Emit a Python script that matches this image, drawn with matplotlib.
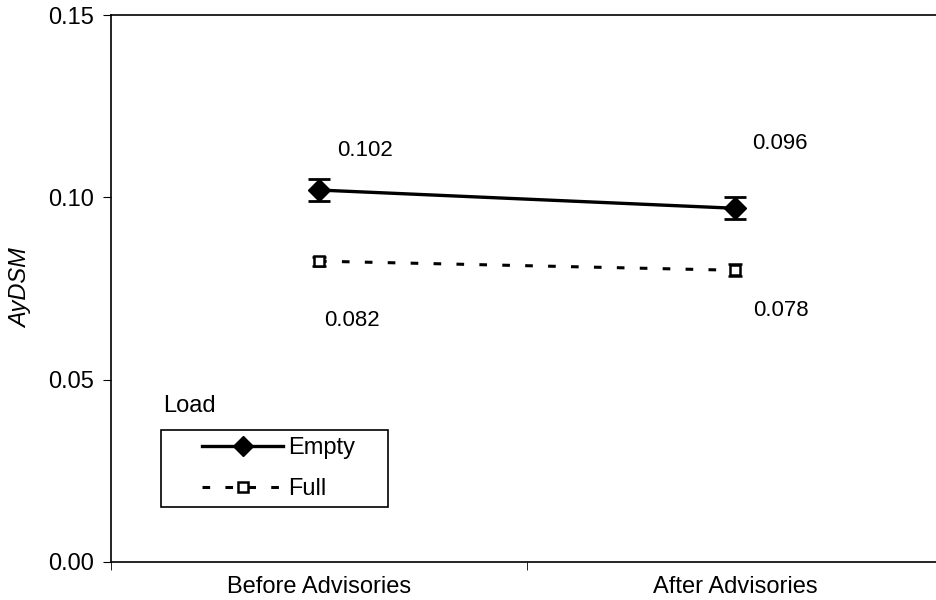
import matplotlib.pyplot as plt
from matplotlib.lines import Line2D
from matplotlib.patches import Rectangle
from matplotlib.ticker import FixedLocator

plt.rcParams['font.family'] = ['Liberation Sans', 'DejaVu Sans']

# data
phases = ['Before Advisories', 'After Advisories']
empty_mean = [0.102, 0.097]
empty_err = [0.003, 0.003]
full_mean = [0.0825, 0.080]
full_err = [0.0012, 0.0016]
empty_labels = ['0.102', '0.096']
full_labels = ['0.082', '0.078']

fig = plt.figure(figsize=(9.36, 6), dpi=100)
ax = fig.add_axes([111 / 936, 38 / 600, 832 / 936, 547 / 600])

x = list(range(len(phases)))
dash = (0, (2.5, 5))

ax.errorbar(x, empty_mean, yerr=empty_err, color='black', lw=2.4,
            marker='D', markersize=11, capsize=8, capthick=2, elinewidth=2)
ax.errorbar(x, full_mean, yerr=full_err, color='black', lw=2.2,
            ls=dash, marker='s', markersize=7, mfc='white', mew=1.8,
            capsize=5, capthick=1.5, elinewidth=1.5)

# value labels (offsets in pixels from the marker)
lab_off_empty = [(46, 40), (45, 65)]
lab_off_full = [(33, -59), (46, -40)]
for xi, yi, s, off in zip(x, empty_mean, empty_labels, lab_off_empty):
    ax.annotate(s, (xi, yi), xytext=off, textcoords='offset pixels',
                ha='center', va='center', fontsize=16)
for xi, yi, s, off in zip(x, full_mean, full_labels, lab_off_full):
    ax.annotate(s, (xi, yi), xytext=off, textcoords='offset pixels',
                ha='center', va='center', fontsize=16)

ax.set_xlim(-0.5, 1.5)
ax.set_ylim(0, 0.15)
ax.set_yticks([0.0, 0.05, 0.10, 0.15])
ax.set_yticklabels(['0.00', '0.05', '0.10', '0.15'], fontsize=17)
ax.set_xticks(x)
ax.set_xticklabels(phases, fontsize=17)
ax.xaxis.set_minor_locator(FixedLocator([-0.5, 0.5, 1.5]))
ax.tick_params(axis='x', which='major', length=0, pad=10)
ax.tick_params(axis='x', which='minor', length=6, direction='out')
ax.tick_params(axis='y', length=6, direction='out', pad=6)
ax.spines['right'].set_visible(False)
for s in ['left', 'bottom', 'top']:
    ax.spines[s].set_linewidth(1.2)
ax.set_ylabel('AyDSM', fontsize=17, style='italic', labelpad=12)

# legend: title outside, plain box
fig.text(163 / 936, 1 - 406 / 600, 'Load', fontsize=17, va='center', ha='left')
fig.patches.append(Rectangle((161 / 936, 1 - 507 / 600), 227 / 936, 77 / 600,
                             transform=fig.transFigure, fill=False,
                             edgecolor='black', lw=1.2))
handles = [
    Line2D([], [], color='black', lw=2.4, marker='D', markersize=10),
    Line2D([], [], color='black', lw=2.2, ls=dash, marker='s', markersize=7,
           mfc='white', mew=1.8),
]
ax.legend(handles, ['Empty', 'Full'], loc='upper left',
          bbox_to_anchor=(200 / 936, 1 - 435 / 600),
          bbox_transform=fig.transFigure, frameon=False, fontsize=17,
          handlelength=3.4, numpoints=1, borderpad=0.1, labelspacing=0.8,
          handletextpad=0.25, borderaxespad=0)

fig.savefig('out.png', dpi=100)
